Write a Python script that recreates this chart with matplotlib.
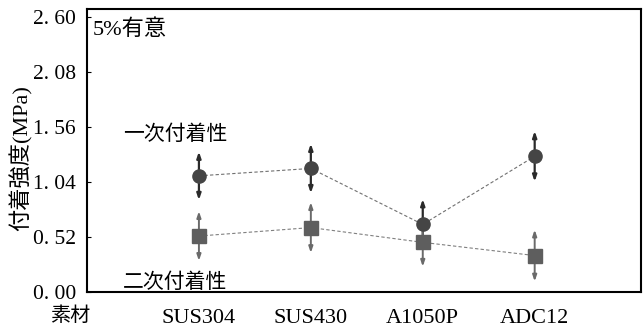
import numpy as np
import matplotlib
matplotlib.use("Agg")
from matplotlib import pyplot as plt

plt.rcParams['font.family'] = ['Liberation Serif', 'Noto Sans CJK JP']

materials = ["SUS304", "SUS430", "A1050P", "ADC12"]
first_mean = [1.10, 1.17, 0.64, 1.285]
first_err = [0.23, 0.235, 0.24, 0.24]
second_mean = [0.53, 0.61, 0.47, 0.345]
second_err = [0.235, 0.24, 0.23, 0.245]
yticks = [0.00, 0.52, 1.04, 1.56, 2.08, 2.60]

fig = plt.figure(figsize=(6.43, 3.29), dpi=100)
ax = fig.add_axes([0.1353, 0.1125, 0.8616, 0.8601])
x = np.arange(1, len(materials) + 1)

ax.plot(x, first_mean, ls=(0, (3, 2)), color="#707070", lw=0.8, zorder=1)
ax.plot(x, second_mean, ls=(0, (3, 2)), color="#808080", lw=0.8, zorder=1)

arrow = "<|-|>,head_length=0.35,head_width=0.12"
for xi, m, e in zip(x, first_mean, first_err):
    ax.annotate("", xy=(xi, m + e), xytext=(xi, m - e),
                arrowprops=dict(arrowstyle=arrow, color="#2a2a2a", lw=1.6,
                                shrinkA=0, shrinkB=0), zorder=2)
for xi, m, e in zip(x, second_mean, second_err):
    ax.annotate("", xy=(xi, m + e), xytext=(xi, m - e),
                arrowprops=dict(arrowstyle=arrow, color="#6a6a6a", lw=1.4,
                                shrinkA=0, shrinkB=0), zorder=2)

ax.plot(x, first_mean, "o", ls="none", color="#454545", ms=9.5, zorder=4)
ax.plot(x, second_mean, "s", ls="none", color="#5e5e5e", ms=10, zorder=5)

ax.set_xlim(0, 4.95)
ax.set_ylim(0, 2.68)
ax.set_xticks(x)
ax.set_xticklabels(materials, fontsize=16)
ax.set_yticks(yticks)
ax.set_yticklabels([f"{v:.2f}".replace(".", ". ") for v in yticks], fontsize=15.5)
ax.tick_params(axis="x", length=0, pad=12)
ax.tick_params(axis="y", direction="in", length=3, pad=8)
for s in ax.spines.values():
    s.set_linewidth(1.5)

ax.set_ylabel("付着強度(MPa)", fontsize=16)
ax.yaxis.set_label_coords(-0.098, 0.473)
ax.text(-0.031, -0.088, "素材", transform=ax.transAxes, fontsize=14.5,
        ha="center", va="center")
ax.text(0.011, 0.926, "5%有意", transform=ax.transAxes, fontsize=16,
        ha="left", va="center")
ax.text(0.065, 0.555, "一次付着性", transform=ax.transAxes, fontsize=15,
        ha="left", va="center")
ax.text(0.065, 0.03, "二次付着性", transform=ax.transAxes, fontsize=15,
        ha="left", va="center")

fig.savefig("out.png", dpi=100)
